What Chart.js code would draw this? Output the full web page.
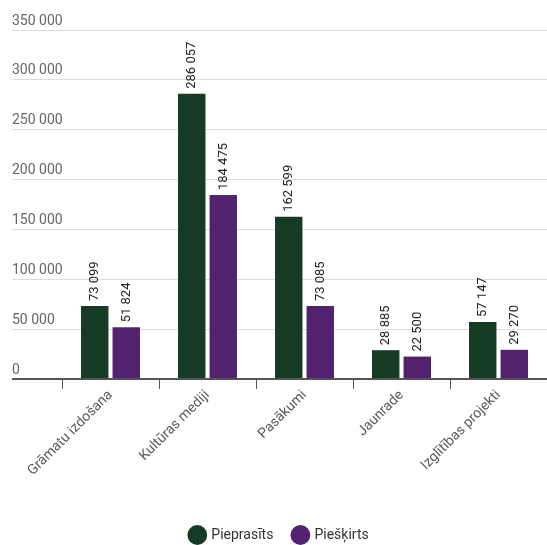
<!DOCTYPE html>
<html>
<head>
<meta charset="utf-8">
<script src="https://cdn.jsdelivr.net/npm/chart.js@4.4.1/dist/chart.umd.min.js"></script>
<style>
  html, body { margin: 0; padding: 0; background: #fff; }
  #wrap { width: 547px; height: 545px; }
</style>
</head>
<body>
<div id="wrap"><canvas id="grafiks"></canvas></div>
<script>
// ─── Dati ─────────────────────────────────────────────────
const KATEGORIJAS = ['Grāmatu izdošana', 'Kultūras mediji', 'Pasākumi', 'Jaunrade', 'Izglītības projekti'];
const PIEPRASITS  = [73099, 286057, 162599, 28885, 57147];
const PIESKIRTS   = [51824, 184475, 73085, 22500, 29270];
const Y_MAX   = 350000;
const Y_SOLIS = 50000;

// ─── Krāsas ───────────────────────────────────────────────
const ZALS    = '#163b24';
const VIOLETS = '#53226f';

// 286057 -> "286 057"
const fmt = v => String(v).replace(/\B(?=(\d{3})+(?!\d))/g, ' ');

Chart.defaults.font.family = 'Roboto';

// ─── Vērtības virs stabiņiem (vertikāli) ──────────────────
const vertibuEtiketes = {
  id: 'vertibuEtiketes',
  afterDatasetsDraw(chart) {
    const { ctx } = chart;
    ctx.save();
    ctx.font = '13px Roboto';
    ctx.fillStyle = '#222';
    ctx.textAlign = 'left';
    ctx.textBaseline = 'middle';
    chart.data.datasets.forEach((ds, i) => {
      chart.getDatasetMeta(i).data.forEach((bar, j) => {
        ctx.save();
        ctx.translate(bar.x, bar.y - 5);
        ctx.rotate(-Math.PI / 2);
        ctx.fillText(fmt(ds.data[j]), 0, 0);
        ctx.restore();
      });
    });
    ctx.restore();
  }
};

new Chart(document.getElementById('grafiks'), {
  type: 'bar',
  data: {
    labels: KATEGORIJAS,
    datasets: [
      { label: 'Pieprasīts', data: PIEPRASITS, backgroundColor: ZALS },
      { label: 'Piešķirts',  data: PIESKIRTS,  backgroundColor: VIOLETS },
    ]
  },
  options: {
    responsive: true,
    maintainAspectRatio: false,
    animation: false,
    categoryPercentage: 0.65,
    barPercentage: 0.87,
    layout: { padding: { top: 30, left: 12, right: 0, bottom: -7 } },
    plugins: {
      tooltip: { enabled: false },
      legend: {
        position: 'bottom',
        labels: {
          usePointStyle: true,
          pointStyle: 'circle',
          color: '#333',
          font: { size: 14 },
          padding: 20,
        }
      }
    },
    scales: {
      x: {
        border: { color: '#555', width: 2 },
        grid: { drawOnChartArea: false, color: '#555', tickLength: 10 },
        ticks: { color: '#5a5a5a', font: { size: 14 }, minRotation: 45, maxRotation: 45, padding: -2 },
        afterFit: s => { s.height = 129; }
      },
      y: {
        min: 0,
        max: Y_MAX,
        border: { display: false },
        grid: {
          color: c => c.tick && c.tick.value === 0 ? '#555' : '#ddd',
          lineWidth: c => c.tick && c.tick.value === 0 ? 2 : 1,
          tickLength: 50,
        },
        ticks: {
          stepSize: Y_SOLIS,
          mirror: true,
          padding: -50,
          labelOffset: -9,
          color: '#666',
          font: { size: 14 },
          callback: v => fmt(v)
        },
        afterFit: s => { s.width = 50; }
      }
    }
  },
  plugins: [vertibuEtiketes]
});
</script>
</body>
</html>
